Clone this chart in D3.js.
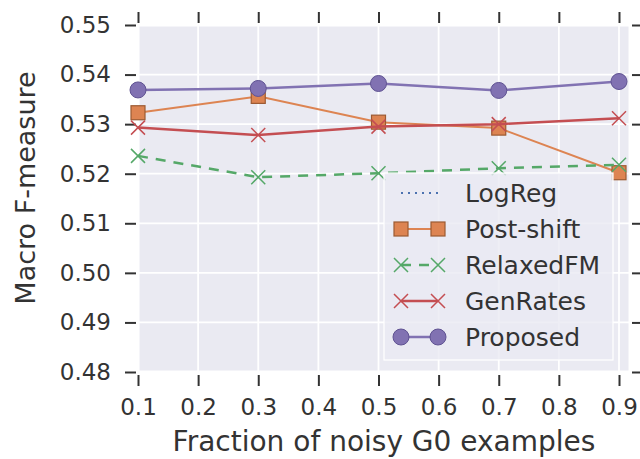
<!DOCTYPE html>
<html>
<head>
<meta charset="utf-8">
<script src="https://cdnjs.cloudflare.com/ajax/libs/d3/7.8.5/d3.min.js"></script>
<style>
  body { margin: 0; background: #fff; }
  text { font-family: "DejaVu Sans", sans-serif; fill: #333; }
</style>
</head>
<body>
<div id="chart"></div>
<script>
var fractions = [0.1, 0.3, 0.5, 0.7, 0.9];
var xTicks = [0.1, 0.2, 0.3, 0.4, 0.5, 0.6, 0.7, 0.8, 0.9];
var yTicks = [0.48, 0.49, 0.50, 0.51, 0.52, 0.53, 0.54, 0.55];

// LogReg falls below the visible range, only shown in the legend
var logReg = [null, null, null, null, null];
var postShift = [0.5323, 0.5356, 0.5304, 0.5292, 0.5202];
var relaxedFM = [0.5236, 0.5193, 0.5201, 0.5211, 0.5218];
var genRates = [0.5293, 0.5278, 0.5295, 0.5300, 0.5312];
var proposed = [0.5369, 0.5372, 0.5382, 0.5368, 0.5386];

var seriesNames = ['LogReg', 'Post-shift', 'RelaxedFM', 'GenRates', 'Proposed'];

var width = 640, height = 459;

var x = d3.scaleLinear().domain([0.1, 0.9]).range([138, 619]);
var y = d3.scaleLinear().domain([0.48, 0.55]).range([372, 25]);

var svg = d3.select('#chart').append('svg')
  .attr('width', width)
  .attr('height', height);

// plot background
svg.append('rect')
  .attr('x', 138).attr('y', 25)
  .attr('width', 630 - 138).attr('height', 372 - 25)
  .attr('fill', '#eaeaf2')
  .attr('stroke', '#fff').attr('stroke-width', 3);

// grid
svg.append('g').selectAll('line')
  .data(xTicks).enter().append('line')
  .attr('x1', d => x(d)).attr('x2', d => x(d))
  .attr('y1', 25).attr('y2', 372)
  .attr('stroke', '#fff').attr('stroke-width', 1.8);

svg.append('g').selectAll('line')
  .data(yTicks).enter().append('line')
  .attr('x1', 138).attr('x2', 630)
  .attr('y1', d => y(d)).attr('y2', d => y(d))
  .attr('stroke', '#fff').attr('stroke-width', 1.8);

// axes with outward ticks
var tickLen = 11;
var axLeft = svg.append('g').attr('transform', 'translate(136,0)')
  .call(d3.axisLeft(y).tickValues(yTicks).tickFormat(d3.format('.2f')).tickSize(tickLen).tickPadding(14));
var axRight = svg.append('g').attr('transform', 'translate(632,0)')
  .call(d3.axisRight(y).tickValues(yTicks).tickFormat('').tickSize(tickLen));
var axBottom = svg.append('g').attr('transform', 'translate(0,375)')
  .call(d3.axisBottom(x).tickValues(xTicks).tickFormat(d3.format('.1f')).tickSize(tickLen).tickPadding(13));
var axTop = svg.append('g').attr('transform', 'translate(0,23)')
  .call(d3.axisTop(x).tickValues(xTicks).tickFormat('').tickSize(tickLen));

[axLeft, axRight, axBottom, axTop].forEach(function(a) {
  a.select('.domain').remove();
  a.selectAll('.tick line').attr('stroke', '#333').attr('stroke-width', 2);
  a.selectAll('.tick text').style('font-size', '23px').attr('fill', '#333');
});

// axis titles
svg.append('text')
  .attr('x', 384).attr('y', 451)
  .attr('text-anchor', 'middle')
  .style('font-size', '28px')
  .text('Fraction of noisy G0 examples');

svg.append('text')
  .attr('transform', 'translate(35,188) rotate(-90)')
  .attr('text-anchor', 'middle')
  .style('font-size', '27px')
  .text('Macro F-measure');

// series styles
var styles = {
  'LogReg':     {color: '#4c72b0', width: 2, dash: '2,5', marker: null},
  'Post-shift': {color: '#dd8452', width: 2, dash: null, marker: 'square', edge: '#9c5a32'},
  'RelaxedFM':  {color: '#55a868', width: 2.5, dash: '10,8', marker: 'x'},
  'GenRates':   {color: '#c44e52', width: 2.5, dash: null, marker: 'x'},
  'Proposed':   {color: '#8172b2', width: 2.5, dash: null, marker: 'circle', edge: '#5f5292'}
};

var data = [logReg, postShift, relaxedFM, genRates, proposed];

var line = d3.line()
  .defined(d => d[1] != null)
  .x(d => x(d[0]))
  .y(d => y(d[1]));

function drawMarker(g, type, st) {
  if (type === 'square') {
    g.append('rect').attr('x', -7).attr('y', -7).attr('width', 14).attr('height', 14)
      .attr('fill', st.color).attr('stroke', st.edge).attr('stroke-width', 1.2);
  } else if (type === 'circle') {
    g.append('circle').attr('r', 8)
      .attr('fill', st.color).attr('stroke', st.edge).attr('stroke-width', 1);
  } else if (type === 'x') {
    g.append('path').attr('d', 'M-7,-7L7,7M-7,7L7,-7')
      .attr('stroke', st.color).attr('stroke-width', 1.5).attr('fill', 'none');
  }
}

var plot = svg.append('g');
seriesNames.forEach(function(name, i) {
  var st = styles[name];
  var pts = fractions.map((f, j) => [f, data[i][j]]);
  plot.append('path')
    .datum(pts)
    .attr('d', line)
    .attr('fill', 'none')
    .attr('stroke', st.color)
    .attr('stroke-width', st.width)
    .attr('stroke-dasharray', st.dash);
  if (st.marker) {
    pts.filter(p => p[1] != null).forEach(function(p) {
      var g = plot.append('g').attr('transform', 'translate(' + x(p[0]) + ',' + y(p[1]) + ')');
      drawMarker(g, st.marker, st);
    });
  }
});

// legend
var legend = svg.append('g').attr('class', 'legend');
legend.append('rect')
  .attr('x', 384).attr('y', 173)
  .attr('width', 229).attr('height', 187)
  .attr('fill', 'rgba(234,234,242,0.8)')
  .attr('stroke', '#fff').attr('stroke-width', 1.2);

seriesNames.forEach(function(name, i) {
  var st = styles[name];
  var cy = 193 + i * 36;
  var row = legend.append('g').attr('transform', 'translate(0,' + cy + ')');
  row.append('line')
    .attr('x1', 401).attr('x2', 438)
    .attr('stroke', st.color).attr('stroke-width', st.width)
    .attr('stroke-dasharray', st.dash);
  if (st.marker) {
    drawMarker(row.append('g').attr('transform', 'translate(401,0)'), st.marker, st);
    drawMarker(row.append('g').attr('transform', 'translate(438,0)'), st.marker, st);
  }
  row.append('text')
    .attr('x', 465).attr('y', 0).attr('dy', '0.35em')
    .style('font-size', '25px')
    .text(name);
});
</script>
</body>
</html>
